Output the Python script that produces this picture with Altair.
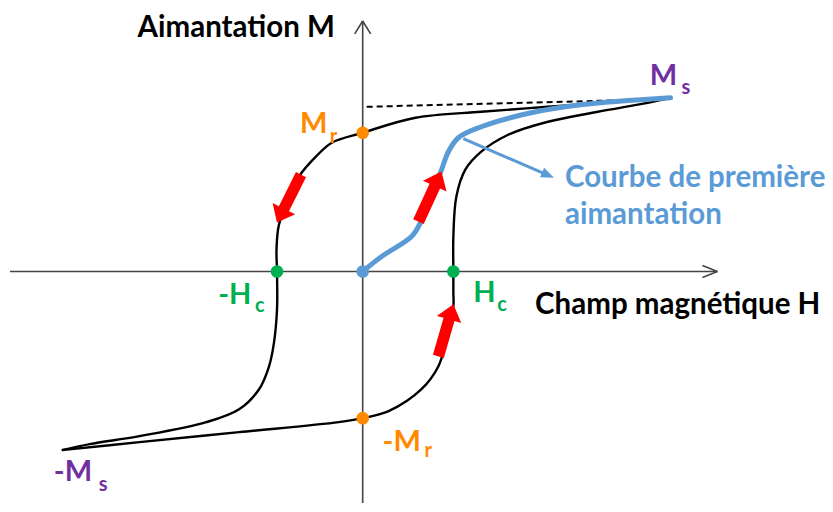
import math
import altair as alt
import pandas as pd

# Hysteresis loop, arbitrary units (origin at the crossing of the axes)
# descending branch: +Ms -> Mr -> -Hc -> -Ms
desc_h = [309, 253, 186, 119, 53, 0, -31, -47, -64, -74, -84, -86.5, -86, -86, -89, -94, -104, -124, -157, -224, -274, -302]
desc_m = [174, 170, 165, 160, 154, 139, 129, 115, 95, 72, 47, 22, 0, -38, -71, -95, -118, -138, -151, -165, -173, -179]
# ascending branch: -Ms -> -Mr -> Hc -> +Ms
asc_h = [-302, -224, -124, -24, 0, 26, 59, 76, 84, 91, 91, 91, 91, 94, 103, 119, 146, 186, 236, 286, 309]
asc_m = [-179, -171, -161, -151, -147, -140, -118, -95, -68, -35, -21, 0, 35, 75, 102, 120, 137, 150, 160, 169, 174]
# first magnetisation curve
first_h = [0, 19, 49, 58, 67, 78, 86, 96, 119, 169, 219, 309]
first_m = [0, 15, 35, 49, 74, 99, 120, 134, 145, 159, 167, 174]
# saturation asymptote (dashed)
dash_h = [4, 276]
dash_m = [165, 172]

# remarkable points
dot_h = [0, 0, -86, 91, 0]
dot_m = [139, -147, 0, 0, 0]
dot_col = ["#FF8A00", "#FF8A00", "#00B050", "#00B050", "#5B9BD5"]

# red direction arrows (tail -> tip)
arr_tail_h = [-62, 76, 56]
arr_tail_m = [97, -85, 50]
arr_tip_h = [-86, 91, 79]
arr_tip_m = [49, -33, 100]

# annotation arrow
ann_h = [101, 192]
ann_m = [133, 94]

# labels (main + subscripts)
lab_text = ["M", "r", "-M", "r", "-H", "c", "H", "c", "M", "s", "-M", "s"]
lab_h = [-63, -33, 20, 62, -145, -108, 111, 135, 288, 320, -310, -265]
lab_m = [139, 129, -180, -186, -33, -41, -31, -40, 187, 178, -210, -220]
lab_size = [29, 20, 29, 20, 29, 20, 29, 20, 29, 20, 29, 20]
lab_col = ["#FF8A00"] * 4 + ["#00B050"] * 4 + ["#7030A0"] * 4

title_text = ["Aimantation M", "Champ magnétique H", "Courbe de première", "aimantation"]
title_h = [-226, 173, 203, 203]
title_m = [235, -43, 85, 48]
title_col = ["#000000", "#000000", "#5B9BD5", "#5B9BD5"]

# axes (lines + open arrow heads)
axis_h = [-354, 0, 356, 356, 0, 0]
axis_m = [0, -232, 0, 0, 251, 251]
axis_h2 = [356, 0, 341, 341, -8, 8]
axis_m2 = [0, 251, 6, -6, 238, 238]

XS = alt.Scale(domain=[-356, 461], nice=False, zero=False)
YS = alt.Scale(domain=[-232, 264], nice=False, zero=False)
X = lambda f="h": alt.X(f"{f}:Q", scale=XS, axis=None)
Y = lambda f="m": alt.Y(f"{f}:Q", scale=YS, axis=None)

axes_df = pd.DataFrame({"h": axis_h, "m": axis_m, "h2": axis_h2, "m2": axis_m2})
axes = alt.Chart(axes_df).mark_rule(color="#444444", strokeWidth=1.6).encode(
    x=X(), y=Y(), x2="h2:Q", y2="m2:Q")

loop_rows = []
for i, (h, m) in enumerate(zip(desc_h, desc_m)):
    loop_rows.append({"h": h, "m": m, "b": "desc", "i": i})
for i, (h, m) in enumerate(zip(asc_h, asc_m)):
    loop_rows.append({"h": h, "m": m, "b": "asc", "i": i})
loop = alt.Chart(pd.DataFrame(loop_rows)).mark_line(
    color="black", strokeWidth=2.4, interpolate="catmull-rom").encode(
    x=X(), y=Y(), detail="b:N", order="i:Q")

dash = alt.Chart(pd.DataFrame({"h": dash_h, "m": dash_m, "i": [0, 1]})).mark_line(
    color="black", strokeWidth=2, strokeDash=[6, 4]).encode(x=X(), y=Y(), order="i:Q")

first = alt.Chart(pd.DataFrame({"h": first_h, "m": first_m, "i": list(range(len(first_h)))})).mark_line(
    color="#5B9BD5", strokeWidth=5, interpolate="catmull-rom", strokeCap="round").encode(
    x=X(), y=Y(), order="i:Q")

# red arrows as rotated custom symbols
arrow_path = "M0,-1 L0.47,-0.42 L0.21,-0.42 L0.21,1 L-0.21,1 L-0.21,-0.42 L-0.47,-0.42 Z"
arows = []
for th, tm, ph, pm in zip(arr_tail_h, arr_tail_m, arr_tip_h, arr_tip_m):
    dh, dm = ph - th, pm - tm
    L = math.hypot(dh, dm)
    ang = math.degrees(math.atan2(dh, dm)) % 360
    arows.append({"h": (th + ph) / 2, "m": (tm + pm) / 2, "ang": ang, "s": L * L})
red = alt.Chart(pd.DataFrame(arows)).mark_point(
    shape=arrow_path, filled=True, color="#FF0000", opacity=1, strokeWidth=0).encode(
    x=X(), y=Y(), angle=alt.Angle("ang:Q", scale=None), size=alt.Size("s:Q", scale=None))

# annotation arrow
dh, dm = ann_h[1] - ann_h[0], ann_m[1] - ann_m[0]
L = math.hypot(dh, dm)
uh, um = dh / L, dm / L
head_len = 13
ann_line = alt.Chart(pd.DataFrame({"h": [ann_h[0]], "m": [ann_m[0]],
                                   "h2": [ann_h[1] - uh * 8], "m2": [ann_m[1] - um * 8]})).mark_rule(
    color="#5B9BD5", strokeWidth=3).encode(x=X(), y=Y(), x2="h2:Q", y2="m2:Q")
ann_head = alt.Chart(pd.DataFrame({"h": [ann_h[1] - uh * head_len / 2], "m": [ann_m[1] - um * head_len / 2],
                                   "ang": [math.degrees(math.atan2(dh, dm)) % 360]})).mark_point(
    shape="M0,-1 L0.8,1 L-0.8,1 Z", filled=True, color="#5B9BD5", opacity=1, size=head_len ** 2, strokeWidth=0).encode(
    x=X(), y=Y(), angle=alt.Angle("ang:Q", scale=None))

dots = alt.Chart(pd.DataFrame({"h": dot_h, "m": dot_m, "c": dot_col})).mark_circle(
    size=160, opacity=1).encode(x=X(), y=Y(), color=alt.Color("c:N", scale=None))

labels = alt.Chart(pd.DataFrame({"t": lab_text, "h": lab_h, "m": lab_m, "s": lab_size, "c": lab_col})).mark_text(
    font="Lato", fontWeight="bold", align="left", baseline="alphabetic").encode(
    x=X(), y=Y(), text="t:N", size=alt.Size("s:Q", scale=None), color=alt.Color("c:N", scale=None))

titles = alt.Chart(pd.DataFrame({"t": title_text, "h": title_h, "m": title_m, "c": title_col})).mark_text(
    font="Lato", fontWeight="bold", align="left", baseline="alphabetic", fontSize=29.5).encode(
    x=X(), y=Y(), text="t:N", color=alt.Color("c:N", scale=None))

chart = alt.layer(axes, dash, loop, first, dots, red, ann_line, ann_head, labels, titles).properties(
    width=817, height=496, padding=0,
    autosize=alt.AutoSizeParams(type="fit", contains="padding"),
).configure_view(stroke=None)

chart.save("out.html", embed_options={"renderer": "svg", "actions": False})
